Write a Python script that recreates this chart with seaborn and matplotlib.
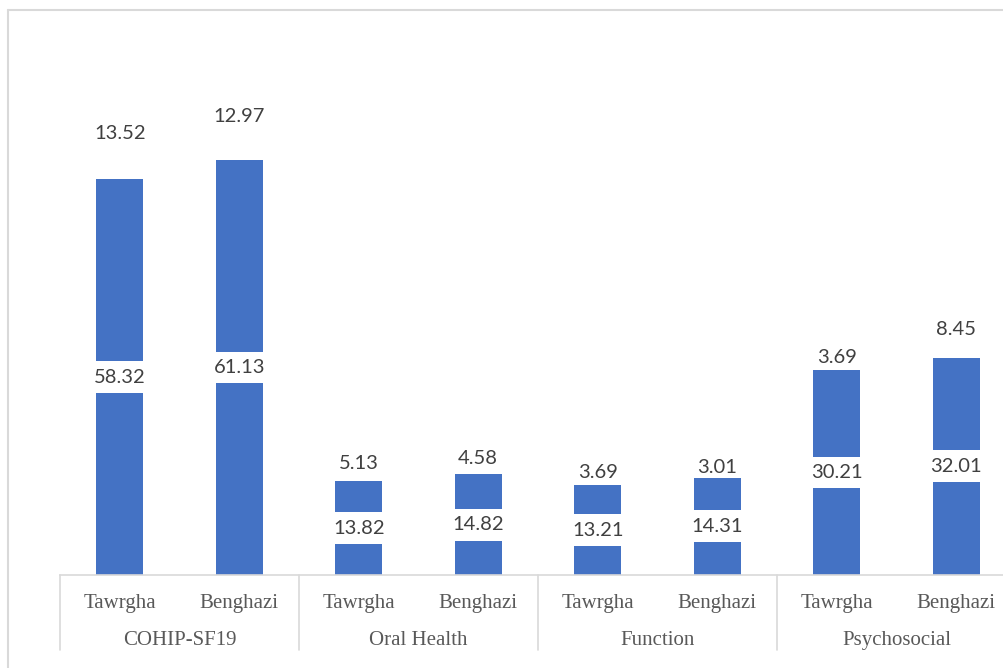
import matplotlib
matplotlib.use("Agg")
import matplotlib.pyplot as plt
import seaborn as sns
import pandas as pd
from matplotlib.lines import Line2D
from matplotlib.transforms import blended_transform_factory

# Mean and SD scores by domain and site
domains = ["COHIP-SF19", "Oral Health", "Function", "Psychosocial"]
sites = ["Tawrgha", "Benghazi"]
mean_tawrgha = [58.32, 13.82, 13.21, 30.21]
mean_benghazi = [61.13, 14.82, 14.31, 32.01]
sd_tawrgha = [13.52, 5.13, 3.69, 3.69]
sd_benghazi = [12.97, 4.58, 3.01, 8.45]

rows = []
for i, d in enumerate(domains):
    rows.append((d, sites[0], mean_tawrgha[i], sd_tawrgha[i]))
    rows.append((d, sites[1], mean_benghazi[i], sd_benghazi[i]))
df = pd.DataFrame(rows, columns=["domain", "site", "mean", "sd"])
df["key"] = df["domain"] + "|" + df["site"]

sns.set_theme(style="white")

W, H = 1004, 668
fig = plt.figure(figsize=(W / 100, H / 100), dpi=100, facecolor="white")
ax = fig.add_axes([60 / W, (H - 575) / H, 956 / W, 543 / H])

BLUE = "#4472C4"
LABEL = "#404040"
AXIS_TXT = "#595959"
GRID = "#D9D9D9"
BAR_W = 0.39

sns.barplot(data=df, x="key", y="mean", color=BLUE, saturation=1,
            width=BAR_W, errorbar=None, linewidth=0, ax=ax)
mean_bars = ax.containers[0]

# SD stacked on top of the mean as an unfilled segment (only its label shows)
sd_bars = ax.bar(range(len(df)), df["sd"], bottom=df["mean"], width=BAR_W,
                 color="none", linewidth=0)

ax.bar_label(mean_bars, labels=[f"{v:.2f}" for v in df["mean"]],
             label_type="center", color=LABEL, fontsize=14.5, family="Lato",
             bbox=dict(boxstyle="square,pad=0.37", fc="white", ec="none"))
ax.bar_label(sd_bars, labels=[f"{v:.2f}" for v in df["sd"]],
             label_type="center", color=LABEL, fontsize=14.5, family="Lato")

ax.set_xlim(-0.5, len(df) - 0.5)
ax.set_ylim(0, 80)
ax.set_xticks([])
ax.set_yticks([])
ax.set_xlabel("")
ax.set_ylabel("")
for s in ["left", "top", "right"]:
    ax.spines[s].set_visible(False)
ax.spines["bottom"].set_color(GRID)
ax.spines["bottom"].set_linewidth(1.2)

# Two-level category axis
trans = blended_transform_factory(ax.transData, ax.transAxes)
ax_h = 543.0
for j, site in enumerate(df["site"]):
    ax.text(j, -33 / ax_h, site, transform=trans, ha="center", va="baseline",
            family="Liberation Serif", fontsize=15, color=AXIS_TXT)
for i, d in enumerate(domains):
    ax.text(2 * i + 0.5, -70 / ax_h, d, transform=trans, ha="center",
            va="baseline", family="Liberation Serif", fontsize=15,
            color=AXIS_TXT)
for b in range(len(domains) + 1):
    ax.plot([2 * b - 0.5, 2 * b - 0.5], [0, -75 / ax_h], transform=trans,
            color=GRID, lw=1.2, clip_on=False)

# Chart-area frame
fig.add_artist(Line2D([8 / W, 8 / W], [0, 1 - 10 / H], transform=fig.transFigure,
                      color=GRID, lw=1.5))
fig.add_artist(Line2D([8 / W, 1], [1 - 10 / H, 1 - 10 / H],
                      transform=fig.transFigure, color=GRID, lw=1.5))

fig.savefig("out.png", dpi=100, facecolor="white")
